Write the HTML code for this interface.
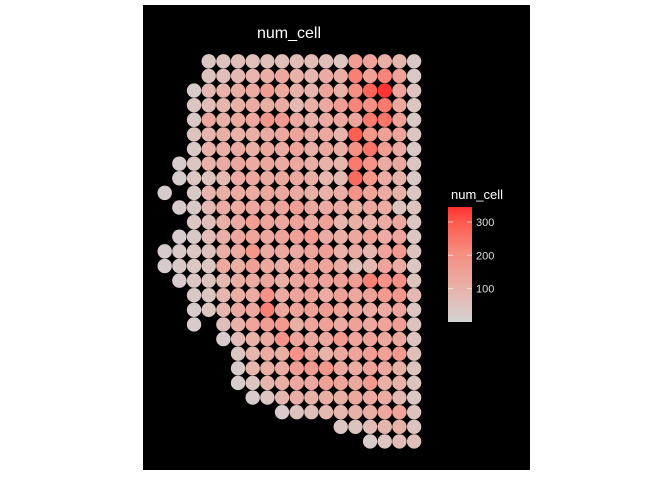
<!DOCTYPE html>
<html><head><meta charset="utf-8"><style>
body{margin:0;background:#fff}
svg{display:block;font-family:"Liberation Sans",sans-serif}
</style></head><body>
<svg width="672" height="480" viewBox="0 0 672 480">
<defs><linearGradient id="lg" x1="0" y1="1" x2="0" y2="0">
<stop offset="0" stop-color="#d3d3d3"/><stop offset="0.29" stop-color="#e8b2a9"/><stop offset="0.58" stop-color="#f69084"/><stop offset="0.87" stop-color="#ff5a4e"/><stop offset="1" stop-color="#ff3030"/></linearGradient></defs>
<rect x="143" y="5" width="387" height="465" fill="#000"/>
<text x="289" y="38" fill="#fff" font-size="16" text-anchor="middle">num_cell</text>
<g id="dots"></g>
<g>
<text x="451" y="199" fill="#fff" font-size="13">num_cell</text>
<rect x="448" y="207" width="24" height="115" fill="url(#lg)"/>
<g id="ticks"></g>
</g>
</svg>
<script>
const startCols=[3,3,2,2,2,2,2,1,1,0,1,2,1,0,0,1,2,2,2,4,5,5,5,6,8,12,14];
const values=[
[40,50,60,60,60,60,70,70,60,40,160,140,110,90,30],
[50,60,80,90,110,130,100,90,120,110,230,150,220,150,30],
[20,80,100,110,120,160,130,100,90,140,100,200,280,340,140,50],
[40,70,90,100,120,110,120,80,110,130,160,220,200,240,130,40],
[30,130,110,120,130,180,170,120,100,120,130,140,240,250,150,30],
[50,90,110,100,110,120,130,140,120,130,90,290,180,150,140,40],
[30,100,110,120,110,130,120,140,110,130,110,200,250,160,120,30],
[20,40,100,120,130,120,130,120,130,110,100,90,240,190,120,130,40],
[20,40,50,80,120,130,120,130,130,110,90,80,270,180,120,100,30],
[20,null,30,90,110,120,120,130,130,120,110,100,110,190,140,120,100,40],
[20,30,80,120,120,130,130,140,160,130,120,120,110,130,120,50,50],
[40,60,110,120,160,140,130,140,120,150,90,110,100,120,130,40],
[20,30,70,110,130,140,130,140,150,170,120,110,130,150,120,140,40],
[20,30,40,50,110,120,180,120,130,120,140,150,100,120,90,140,170,50],
[20,30,40,40,130,110,150,130,110,130,150,140,120,60,80,140,120,40],
[20,40,50,80,110,120,130,110,130,150,140,150,160,230,190,200,50],
[30,40,90,110,120,190,120,140,150,120,150,130,150,170,180,80],
[20,40,90,120,130,230,130,140,150,160,140,130,120,120,140,40],
[20,null,60,100,140,160,170,110,140,150,120,150,130,140,160,50],
[20,70,100,120,190,140,130,130,170,140,140,130,130,50],
[40,90,120,110,190,140,100,130,140,160,150,170,60],
[20,90,110,120,160,170,180,130,120,140,130,110,50],
[20,40,90,110,130,130,150,140,130,170,110,100,50],
[20,40,90,110,100,110,110,130,120,120,80,40],
[20,50,60,80,90,100,110,130,140,50],
[40,50,70,90,100,50],
[20,40,70,60]
];
const tickVals=[100,200,300];
const vmax=345;
const stopsT=[0,0.29,0.58,0.87,1];
const stopsC=[[211,211,211],[232,178,169],[246,144,132],[255,90,78],[255,48,48]];
const x0=164.7,y0=61.3,dx=14.67,dy=14.62;
const xs=c=>x0+c*dx, ys=r=>y0+r*dy;
function col(v){const t=Math.max(0,Math.min(1,v/vmax));
let i=0;while(i<stopsT.length-2&&t>stopsT[i+1])i++;
const f=(t-stopsT[i])/(stopsT[i+1]-stopsT[i]);
const c=stopsC[i].map((a,k)=>Math.round(a+(stopsC[i+1][k]-a)*f));
return `rgb(${c[0]},${c[1]},${c[2]})`;}
const NS="http://www.w3.org/2000/svg";
const g=document.getElementById('dots');
values.forEach((row,ri)=>{row.forEach((v,k)=>{if(v===null)return;
const c=document.createElementNS(NS,'circle');
c.setAttribute('cx',xs(startCols[ri]+k));c.setAttribute('cy',ys(ri));c.setAttribute('r',7.2);
c.setAttribute('fill',col(v));


g.appendChild(c);});});
const tg=document.getElementById('ticks');
const ly=v=>322-v*(115/vmax);
tickVals.forEach(v=>{const y=ly(v);
[[448,453],[467,472]].forEach(([a,b])=>{const l=document.createElementNS(NS,'line');
l.setAttribute('x1',a);l.setAttribute('x2',b);l.setAttribute('y1',y);l.setAttribute('y2',y);
l.setAttribute('stroke','#fff');l.setAttribute('stroke-opacity','0.6');


tg.appendChild(l);});
const t=document.createElementNS(NS,'text');
t.setAttribute('x',476);t.setAttribute('y',y+4);t.setAttribute('fill','#ddd');t.setAttribute('font-size','11');
t.textContent=v;


tg.appendChild(t);});
</script>
</body></html>
